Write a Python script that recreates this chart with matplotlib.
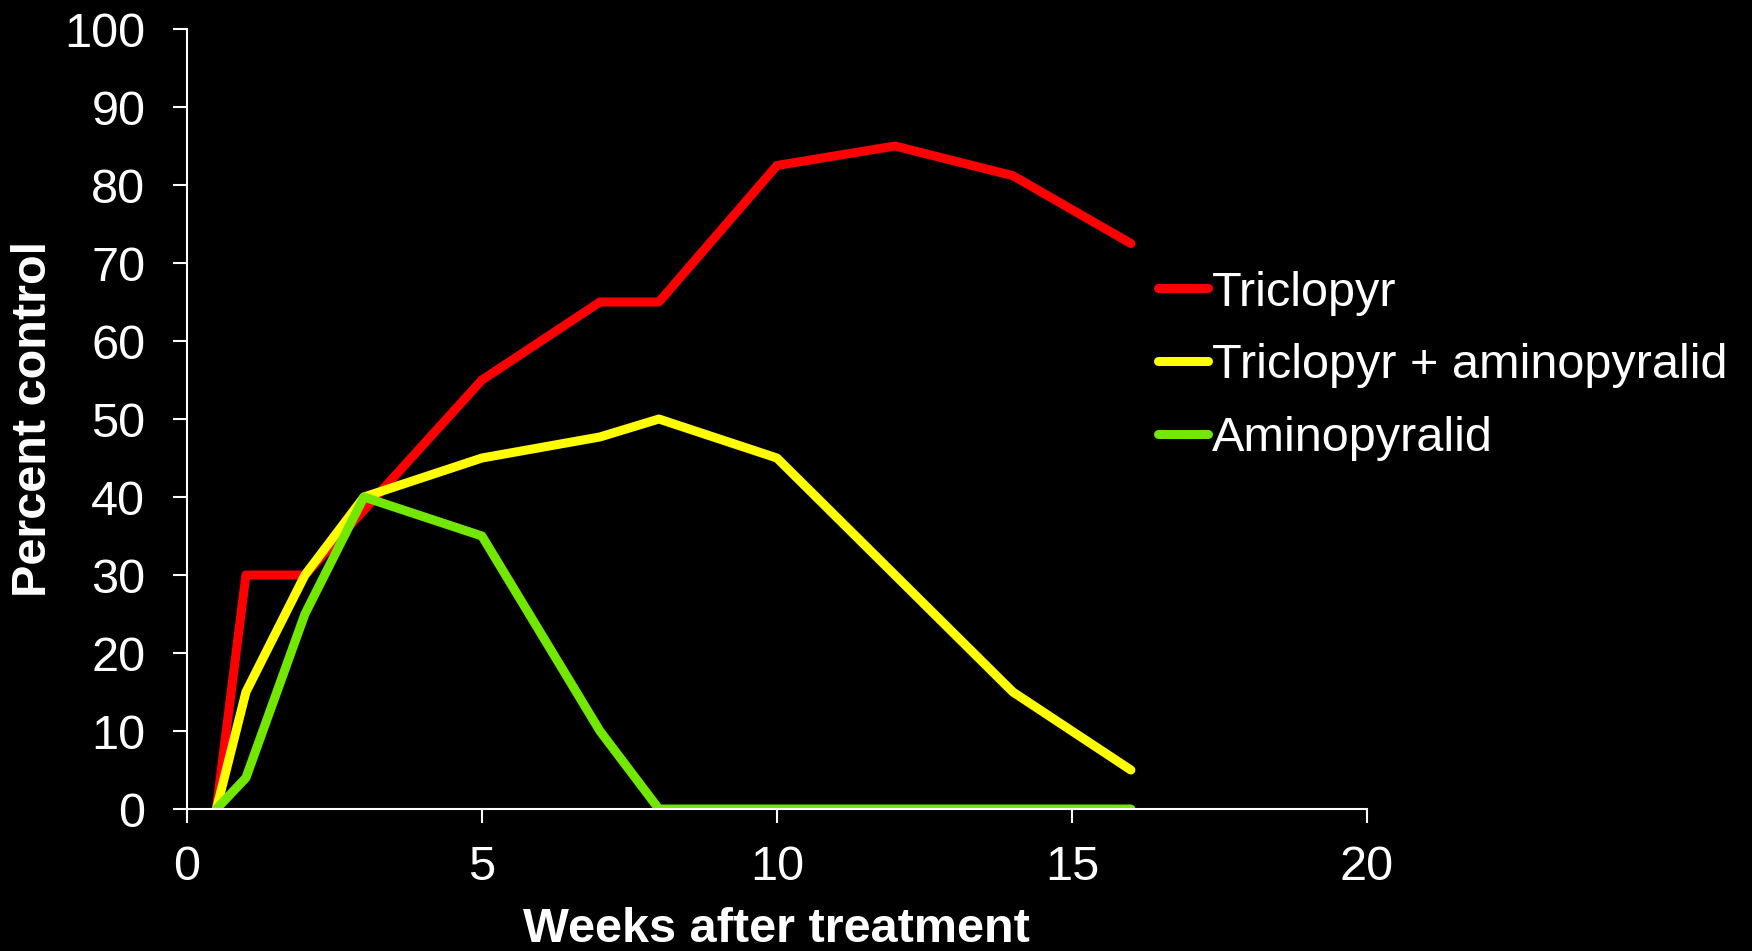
import matplotlib
matplotlib.use('Agg')
import matplotlib.pyplot as plt

# weeks after treatment
weeks_tri = [0.5, 1, 2, 5, 7, 8, 10, 12, 14, 16]
tri = [0, 30, 30, 55, 65, 65, 82.5, 85, 81.2, 72.5]

weeks = [0.5, 1, 2, 3, 5, 7, 8, 10, 12, 14, 16]
tri_amino = [0, 15, 30, 40, 45, 47.7, 50, 45, 30, 15, 5]
amino = [0, 4, 25, 40, 35, 10, 0, 0, 0, 0, 0]

labels = ['Triclopyr', 'Triclopyr + aminopyralid', 'Aminopyralid']
colors = ['#ff0000', '#ffff00', '#72e800']

plt.rcParams['font.family'] = ['Liberation Sans', 'DejaVu Sans']

fig = plt.figure(figsize=(17.52, 9.51), dpi=100, facecolor='black')
ax = fig.add_axes([0.1067, 0.1493, 0.6735, 0.8202])
ax.set_facecolor('black')

lw = 6.5
ax.plot(weeks_tri, tri, color=colors[0], lw=lw, label=labels[0], solid_capstyle='round')
ax.plot(weeks, tri_amino, color=colors[1], lw=lw, label=labels[1], solid_capstyle='round')
ax.plot(weeks, amino, color=colors[2], lw=lw, label=labels[2], solid_capstyle='round')

ax.set_xlim(0, 20)
ax.set_ylim(0, 100)
ax.set_xticks(range(0, 21, 5))
ax.set_yticks(range(0, 101, 10))

for s in ['top', 'right']:
    ax.spines[s].set_visible(False)
for s in ['left', 'bottom']:
    ax.spines[s].set_color('white')
    ax.spines[s].set_linewidth(1.5)
ax.tick_params(colors='white', labelsize=35, width=1.5, length=10)
ax.tick_params(axis='y', pad=20)
ax.tick_params(axis='x', pad=16)

ax.set_xlabel('Weeks after treatment', color='white', fontsize=35, fontweight='bold', labelpad=12)
ax.set_ylabel('Percent control', color='white', fontsize=35, fontweight='bold', labelpad=6)

leg = ax.legend(loc='upper left', bbox_to_anchor=(0.650, 0.736), bbox_transform=fig.transFigure,
                frameon=False, fontsize=35, handlelength=1.03, handletextpad=0.08,
                labelspacing=0.57, borderaxespad=0)
for t in leg.get_texts():
    t.set_color('white')

fig.savefig('out.png', dpi=100, facecolor='black')
